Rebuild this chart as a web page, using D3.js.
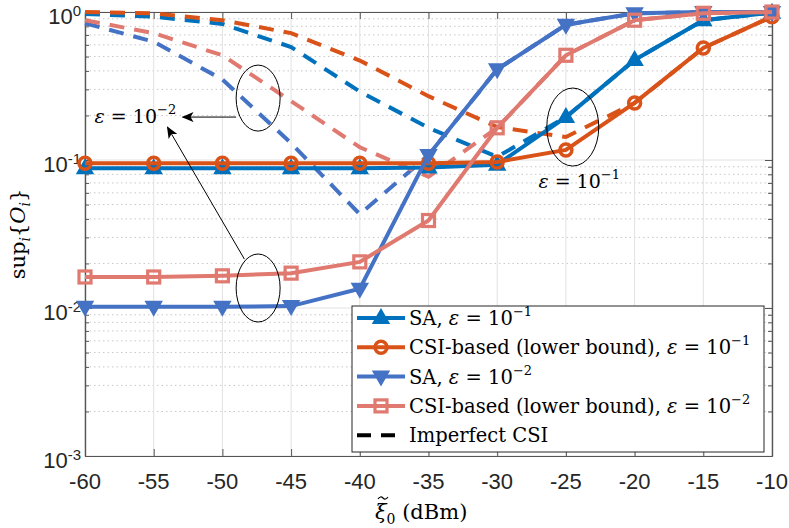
<!DOCTYPE html>
<html>
<head>
<meta charset="utf-8">
<script src="https://cdn.jsdelivr.net/npm/d3@7"></script>
<style>
  body { margin: 0; background: #fff; }
  svg { display: block; }
</style>
</head>
<body>
<div id="chart"></div>
<script>
// transmit power grid (dBm)
var xValues = [-60, -55, -50, -45, -40, -35, -30, -25, -20, -15, -10];
var xTicks = [-60, -55, -50, -45, -40, -35, -30, -25, -20, -15, -10];
var yTicks = [1e-3, 1e-2, 1e-1, 1];
var yTickExp = ["-3", "-2", "-1", "0"];

// perfect CSI curves
var saEps1 = [0.088, 0.088, 0.088, 0.088, 0.088, 0.089, 0.093, 0.195, 0.474, 0.88, 0.99];
var csiEps1 = [0.095, 0.095, 0.095, 0.095, 0.095, 0.095, 0.097, 0.117, 0.243, 0.571, 0.93];
var saEps2 = [0.0102, 0.0102, 0.0102, 0.0103, 0.0135, 0.108, 0.41, 0.82, 0.98, 1.0, 1.0];
var csiEps2 = [0.0162, 0.0162, 0.0165, 0.0172, 0.0205, 0.039, 0.165, 0.51, 0.88, 0.98, 1.0];

// imperfect CSI curves (dashed)
var impSaEps1 = [0.97, 0.93, 0.83, 0.58, 0.29, 0.165, 0.105, 0.195, 0.474, 0.88, 0.99];
var impCsiEps1 = [1.0, 0.98, 0.88, 0.72, 0.47, 0.27, 0.167, 0.143, 0.243, 0.571, 0.93];
var impSaEps2 = [0.84, 0.63, 0.35, 0.13, 0.043, 0.108, 0.41, 0.82, 0.98, 1.0, 1.0];
var impCsiEps2 = [0.88, 0.72, 0.51, 0.25, 0.122, 0.077, 0.165, 0.51, 0.88, 0.98, 1.0];

var legendLabels = ["SA, ", "CSI-based (lower bound), ", "SA, ", "CSI-based (lower bound), "];
var legendExp = ["\u22121", "\u22121", "\u22122", "\u22122"];

var blue1 = "#0072BD", orange1 = "#D95319", blue2 = "#4472C4", salmon2 = "#E0796F";
var serif = "DejaVu Serif, Liberation Serif, serif";

var width = 789, height = 528;
var pLeft = 85, pRight = 772, pTop = 12, pBottom = 456;

var svg = d3.select("#chart").append("svg")
    .attr("width", width)
    .attr("height", height);

var x = d3.scaleLinear().domain([-60, -10]).range([pLeft, pRight]);
var y = d3.scaleLog().domain([1e-3, 1]).range([pBottom, pTop]);

var minorY = [];
[1e-3, 1e-2, 1e-1].forEach(function(d) {
    for (var k = 2; k <= 9; k++) minorY.push(d * k);
});

// grid
svg.append("g").selectAll("line")
    .data(minorY).enter().append("line")
    .attr("x1", pLeft).attr("x2", pRight)
    .attr("y1", function(d) { return y(d); })
    .attr("y2", function(d) { return y(d); })
    .style("stroke", "#c8c8c8")
    .style("stroke-width", 1)
    .style("stroke-dasharray", "1.5,3");

svg.append("g").selectAll("line")
    .data(yTicks).enter().append("line")
    .attr("x1", pLeft).attr("x2", pRight)
    .attr("y1", function(d) { return y(d); })
    .attr("y2", function(d) { return y(d); })
    .style("stroke", "#e2e2e2")
    .style("stroke-width", 1);

svg.append("g").selectAll("line")
    .data(xTicks).enter().append("line")
    .attr("y1", pTop).attr("y2", pBottom)
    .attr("x1", function(d) { return x(d); })
    .attr("x2", function(d) { return x(d); })
    .style("stroke", "#e2e2e2")
    .style("stroke-width", 1);

// axes (ticks pointing inward)
function styleAxis(g) {
    g.selectAll("path").style("stroke", "#555").style("stroke-width", 1.2);
    g.selectAll("line").style("stroke", "#555").style("stroke-width", 1);
    g.selectAll("text").remove();
}
svg.append("g").attr("transform", "translate(0," + pBottom + ")")
    .call(d3.axisBottom(x).tickValues(xTicks).tickSize(-7).tickSizeOuter(0)).call(styleAxis);
svg.append("g").attr("transform", "translate(0," + pTop + ")")
    .call(d3.axisTop(x).tickValues(xTicks).tickSize(-7).tickSizeOuter(0)).call(styleAxis);
svg.append("g").attr("transform", "translate(" + pLeft + ",0)")
    .call(d3.axisLeft(y).tickValues(yTicks).tickSize(-7).tickSizeOuter(0)).call(styleAxis);
svg.append("g").attr("transform", "translate(" + pRight + ",0)")
    .call(d3.axisRight(y).tickValues(yTicks).tickSize(-7).tickSizeOuter(0)).call(styleAxis);
svg.append("g").attr("transform", "translate(" + pLeft + ",0)")
    .call(d3.axisLeft(y).tickValues(minorY).tickSize(-4).tickSizeOuter(0)).call(styleAxis);
svg.append("g").attr("transform", "translate(" + pRight + ",0)")
    .call(d3.axisRight(y).tickValues(minorY).tickSize(-4).tickSizeOuter(0)).call(styleAxis);

// tick labels
svg.append("g").selectAll("text")
    .data(xTicks).enter().append("text")
    .attr("x", function(d) { return x(d); })
    .attr("y", pBottom + 33)
    .attr("text-anchor", "middle")
    .style("font-family", "Liberation Sans, Arial, sans-serif")
    .style("font-size", "22px")
    .style("fill", "#262626")
    .text(function(d) { return d; });

var yLab = svg.append("g").selectAll("text")
    .data(yTicks).enter().append("text")
    .attr("x", 81)
    .attr("y", function(d) { return y(d) + 12; })
    .attr("text-anchor", "end")
    .style("font-family", "Liberation Sans, Arial, sans-serif")
    .style("font-size", "22px")
    .style("fill", "#262626");
yLab.append("tspan").text("10");
yLab.append("tspan").attr("dy", -8).style("font-size", "15px")
    .text(function(d, i) { return yTickExp[i]; });

// curves
function rows(vals) {
    return xValues.map(function(d, i) { return [d, vals[i]]; });
}
var line = d3.line()
    .x(function(d) { return x(d[0]); })
    .y(function(d) { return y(d[1]); });

var dashed = [[impSaEps1, blue1], [impCsiEps1, orange1], [impSaEps2, blue2], [impCsiEps2, salmon2]];
dashed.forEach(function(s) {
    svg.append("path")
        .datum(rows(s[0]))
        .attr("d", line)
        .style("fill", "none")
        .style("stroke", s[1])
        .style("stroke-width", 4)
        .style("stroke-dasharray", "15,10");
});

function marker(g, kind, color) {
    if (kind === "up") {
        g.append("path").attr("d", "M0,-8L7.5,5L-7.5,5Z")
            .style("fill", color).style("stroke", color).style("stroke-width", 2);
    } else if (kind === "down") {
        g.append("path").attr("d", "M0,8L7.5,-5L-7.5,-5Z")
            .style("fill", color).style("stroke", color).style("stroke-width", 2);
    } else if (kind === "circle") {
        g.append("circle").attr("r", 6)
            .style("fill", "none").style("stroke", color).style("stroke-width", 3.5);
    } else {
        g.append("rect").attr("x", -6).attr("y", -6).attr("width", 12).attr("height", 12)
            .style("fill", "none").style("stroke", color).style("stroke-width", 3.2);
    }
}

var solid = [[saEps1, blue1, "up"], [csiEps1, orange1, "circle"], [saEps2, blue2, "down"], [csiEps2, salmon2, "square"]];
solid.forEach(function(s) {
    svg.append("path")
        .datum(rows(s[0]))
        .attr("d", line)
        .style("fill", "none")
        .style("stroke", s[1])
        .style("stroke-width", 4);
    svg.append("g").selectAll("g")
        .data(rows(s[0])).enter().append("g")
        .attr("transform", function(d) { return "translate(" + x(d[0]) + "," + y(d[1]) + ")"; })
        .each(function() { marker(d3.select(this), s[2], s[1]); });
});

// annotations (ellipses, arrows, labels) in data coordinates
var ellipses = [[-47.4, 0.262, 22, 33], [-47.4, 0.01365, 22, 34], [-24.5, 0.167, 26, 39]];
svg.append("g").selectAll("ellipse")
    .data(ellipses).enter().append("ellipse")
    .attr("cx", function(d) { return x(d[0]); })
    .attr("cy", function(d) { return y(d[1]); })
    .attr("rx", function(d) { return d[2]; })
    .attr("ry", function(d) { return d[3]; })
    .style("fill", "none").style("stroke", "#000").style("stroke-width", 1);

svg.append("defs").append("marker")
    .attr("id", "head").attr("viewBox", "0 0 12 10")
    .attr("refX", 11).attr("refY", 5)
    .attr("markerWidth", 12).attr("markerHeight", 10)
    .attr("markerUnits", "userSpaceOnUse")
    .attr("orient", "auto")
    .append("path").attr("d", "M0,0L12,5L0,10L3,5Z").style("fill", "#000");

var arrows = [[-49.0, 0.195, -52.9, 0.195], [-48.4, 0.0214, -54.0, 0.167]];
svg.append("g").selectAll("line")
    .data(arrows).enter().append("line")
    .attr("x1", function(d) { return x(d[0]); })
    .attr("y1", function(d) { return y(d[1]); })
    .attr("x2", function(d) { return x(d[2]); })
    .attr("y2", function(d) { return y(d[3]); })
    .attr("marker-end", "url(#head)")
    .style("stroke", "#000").style("stroke-width", 1);

function epsText(g, xv, yv, exp) {
    var t = g.append("text")
        .attr("x", x(xv)).attr("y", y(yv))
        .style("font-family", serif)
        .style("font-size", "19px")
        .style("fill", "#000");
    t.append("tspan").style("font-style", "italic").text("\u03b5");
    t.append("tspan").text(" = 10");
    t.append("tspan").attr("dy", -9).style("font-size", "13px").text(exp);
    return t;
}
epsText(svg, -59.3, 0.178, "\u22122");
epsText(svg, -27.0, 0.0647, "\u22121");

// legend
var lg = svg.append("g");
lg.append("rect")
    .attr("x", 352).attr("y", 306).attr("width", 412).attr("height", 146)
    .style("fill", "#fff").style("stroke", "#262626").style("stroke-width", 1);

var legendRows = solid.map(function(s, i) { return { color: s[1], kind: s[2], label: legendLabels[i], exp: legendExp[i] }; });
legendRows.forEach(function(r, i) {
    var cy = 318 + i * 29.3;
    lg.append("line").attr("x1", 357).attr("x2", 405).attr("y1", cy).attr("y2", cy)
        .style("stroke", r.color).style("stroke-width", 4);
    var m = lg.append("g").attr("transform", "translate(381," + cy + ")");
    marker(m, r.kind, r.color);
    var t = lg.append("text").attr("x", 409).attr("y", cy + 7)
        .style("font-family", serif)
        .style("font-size", "19.5px").style("fill", "#000");
    t.append("tspan").text(r.label);
    t.append("tspan").style("font-style", "italic").text("\u03b5");
    t.append("tspan").text(" = 10");
    t.append("tspan").attr("dy", -9).style("font-size", "13px").text(r.exp);
});
var dcy = 318 + 4 * 29.3;
lg.append("line").attr("x1", 357).attr("x2", 405).attr("y1", dcy).attr("y2", dcy)
    .style("stroke", "#000").style("stroke-width", 4).style("stroke-dasharray", "14,10");
lg.append("text").attr("x", 409).attr("y", dcy + 7)
    .style("font-family", serif)
    .style("font-size", "19.5px").style("fill", "#000")
    .text("Imperfect CSI");

// axis titles
var xt = svg.append("text")
    .attr("x", 375).attr("y", 519)
    .style("font-family", serif)
    .style("font-size", "21px").style("fill", "#000");
xt.append("tspan").style("font-style", "italic").text("\u03be");
xt.append("tspan").attr("dy", 5).style("font-size", "14px").text("0");
xt.append("tspan").attr("dy", -5).text(" (dBm)");
// tilde accent over xi
svg.append("path")
    .attr("d", "M378,499 Q380.5,495.5 383,498 T388,497")
    .style("fill", "none").style("stroke", "#000").style("stroke-width", 1.2);

var yt = svg.append("text")
    .attr("transform", "translate(25,234) rotate(-90)")
    .attr("text-anchor", "middle")
    .style("font-family", serif)
    .style("font-size", "21px").style("fill", "#000");
yt.append("tspan").text("sup");
yt.append("tspan").attr("dy", 5).style("font-size", "14px").style("font-style", "italic").text("i");
yt.append("tspan").attr("dy", -5).text("{");
yt.append("tspan").style("font-style", "italic").text("O");
yt.append("tspan").attr("dy", 5).style("font-size", "14px").style("font-style", "italic").text("i");
yt.append("tspan").attr("dy", -5).text("}");
</script>
</body>
</html>
